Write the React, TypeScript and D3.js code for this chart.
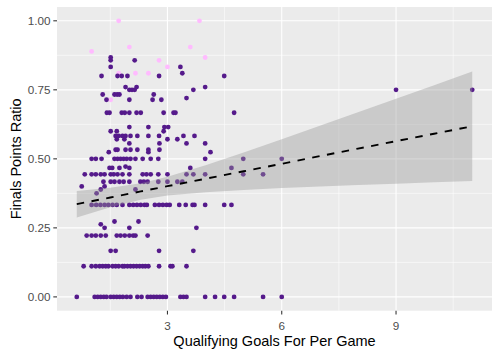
import { useEffect, useRef } from 'react'
import * as d3 from 'd3'

// finals points ratio levels, and the qualifying goals per game of every team on that level
const ratioLevels = [
  0, 0.111, 0.167, 0.222, 0.25, 0.263, 0.273, 0.333, 0.375, 0.389, 0.4, 0.417, 0.444,
  0.467, 0.472, 0.5, 0.524, 0.533, 0.556, 0.571, 0.583, 0.6, 0.615, 0.667, 0.714, 0.72,
  0.733, 0.75, 0.76, 0.8, 0.81, 0.833, 0.857, 0.867,
]
const goalsByLevel: number[][] = [
  [0.62, 1.09, 1.17, 1.25, 1.33, 1.4, 1.51, 1.59, 1.67, 1.75, 1.83, 1.93, 2.03, 2.21, 2.32, 2.48, 2.56, 2.64, 2.72, 2.8, 2.88, 2.96, 3.34, 3.42, 3.5, 3.99, 4.25, 4.49, 4.75, 5.51, 6.0],
  [0.8, 1.01, 1.12, 1.22, 1.3, 1.38, 1.45, 1.56, 1.64, 1.72, 1.82, 1.87, 1.95, 2.03, 2.11, 2.19, 2.27, 2.35, 2.42, 2.5, 2.78, 3.08, 3.13, 3.5],
  [1.51, 1.64, 2.78, 3.68],
  [0.88, 1.01, 1.12, 1.25, 1.38, 1.67, 1.77, 1.88, 2.0, 2.1, 2.16, 2.48],
  [1.35, 2.0, 3.76],
  [1.25],
  [1.61, 2.24],
  [1.01, 1.13, 1.24, 1.35, 1.45, 1.56, 1.67, 1.82, 2.0, 2.1, 2.2, 2.3, 2.4, 2.46, 2.67, 2.78, 2.88, 2.98, 3.06, 3.31, 3.48, 3.66, 3.71, 3.99, 4.49, 4.68],
  [1.14],
  [1.25, 2.16],
  [0.75, 1.35],
  [1.32, 1.51, 1.61, 1.74, 1.85, 2.0, 2.29, 2.38, 2.48, 2.76, 3.0, 3.26, 3.39],
  [0.83, 1.01, 1.12, 1.25, 1.35, 1.51, 1.59, 1.69, 1.82, 2.0, 2.35, 2.45, 2.56, 2.76, 3.0, 3.5, 3.68, 3.99, 4.99, 5.51],
  [1.48, 1.55, 1.74, 2.0, 3.6, 4.68],
  [1.9],
  [1.01, 1.12, 1.27, 1.61, 1.69, 1.77, 1.85, 1.93, 2.03, 2.16, 2.35, 2.56, 2.76, 3.99, 4.99, 6.0],
  [1.46, 2.5, 4.13],
  [1.64, 1.69, 1.9, 2.03, 2.21, 2.5, 2.79],
  [2.0, 2.79, 3.5, 3.99],
  [1.67, 1.87, 3.0, 3.26],
  [1.64, 1.72, 1.82, 1.9, 2.03, 2.21, 2.5, 2.78, 3.42, 3.71],
  [1.51, 1.67, 2.9],
  [2.0, 2.5, 2.92, 3.02],
  [1.41, 1.48, 1.8, 1.88, 2.0, 2.19, 2.3, 2.9, 3.16, 3.21, 4.75],
  [1.4, 2.0, 2.61, 2.84],
  [3.5],
  [1.3, 1.61, 1.68, 1.74, 2.64],
  [2.0, 2.07, 2.14, 3.68, 9.0, 11.0],
  [1.9, 2.19, 3.99],
  [1.27, 1.69, 1.8, 1.95, 2.78, 4.49],
  [3.39],
  [1.51, 3.34],
  [1.51, 2.14],
  [1.51],
]

// the lighter (pink) teams
const pinkGoals = [1.72, 3.84, 1.01, 2.0, 3.6, 3.99, 2.78, 3.0, 1.72, 2.16, 2.5, 1.51]
const pinkRatio = [1.0, 1.0, 0.889, 0.905, 0.905, 0.867, 0.857, 0.833, 0.81, 0.81, 0.81, 0.714]

// linear fit and its 95% band
const fitGoals = [0.62, 1.5, 2.3, 3, 4, 5, 6, 7, 8, 9, 10, 11]
const fitRatio = [0.336, 0.36, 0.382, 0.401, 0.428, 0.455, 0.482, 0.51, 0.537, 0.564, 0.591, 0.618]
const fitLower = [0.288, 0.325, 0.352, 0.367, 0.379, 0.387, 0.394, 0.4, 0.405, 0.41, 0.415, 0.42]
const fitUpper = [0.384, 0.395, 0.412, 0.435, 0.477, 0.523, 0.571, 0.62, 0.669, 0.718, 0.767, 0.816]

const xTicks = [3, 6, 9]
const xMinor = [1.5, 4.5, 7.5, 10.5]
const yTicks = [0, 0.25, 0.5, 0.75, 1]
const yMinor = [0.125, 0.375, 0.625, 0.875]

export default function App() {
  const ref = useRef<SVGSVGElement>(null)

  useEffect(() => {
    if (!ref.current) return
    const svg = d3.select(ref.current)
    svg.selectAll('*').remove()

    const left = 57, right = 492, top = 7, bottom = 310.7
    const x = d3.scaleLinear().domain([0.101, 11.519]).range([left, right])
    const y = d3.scaleLinear().domain([-0.05, 1.05]).range([bottom, top])

    const pts: { g: number, r: number }[] = []
    ratioLevels.forEach((r, i) => goalsByLevel[i].forEach(g => pts.push({ g, r })))
    const pink = pinkGoals.map((g, i) => ({ g, r: pinkRatio[i] }))

    svg.append('rect')
      .attr('x', left).attr('y', top)
      .attr('width', right - left).attr('height', bottom - top)
      .attr('fill', '#EBEBEB')

    const grid = svg.append('g')
    grid.selectAll('line.xm').data(xMinor).join('line')
      .attr('x1', d => x(d)).attr('x2', d => x(d)).attr('y1', top).attr('y2', bottom)
      .attr('stroke', '#fff').attr('stroke-width', 0.55)
    grid.selectAll('line.ym').data(yMinor).join('line')
      .attr('y1', d => y(d)).attr('y2', d => y(d)).attr('x1', left).attr('x2', right)
      .attr('stroke', '#fff').attr('stroke-width', 0.55)
    grid.selectAll('line.xM').data(xTicks).join('line')
      .attr('x1', d => x(d)).attr('x2', d => x(d)).attr('y1', top).attr('y2', bottom)
      .attr('stroke', '#fff').attr('stroke-width', 1.1)
    grid.selectAll('line.yM').data(yTicks).join('line')
      .attr('y1', d => y(d)).attr('y2', d => y(d)).attr('x1', left).attr('x2', right)
      .attr('stroke', '#fff').attr('stroke-width', 1.1)

    // points
    svg.append('g').selectAll('circle').data(pink).join('circle')
      .attr('cx', d => x(d.g)).attr('cy', d => y(d.r)).attr('r', 2.4)
      .attr('fill', '#FFBBFF')
    svg.append('g').selectAll('circle').data(pts).join('circle')
      .attr('cx', d => x(d.g)).attr('cy', d => y(d.r)).attr('r', 2.4)
      .attr('fill', '#551A8B')

    // confidence band and fitted line
    const idx = fitGoals.map((_, i) => i)
    const area = d3.area<number>()
      .x(i => x(fitGoals[i])).y0(i => y(fitLower[i])).y1(i => y(fitUpper[i]))
    svg.append('path').attr('d', area(idx)).attr('fill', '#999999').attr('fill-opacity', 0.4)
    const line = d3.line<number>().x(i => x(fitGoals[i])).y(i => y(fitRatio[i]))
    svg.append('path').attr('d', line(idx))
      .attr('fill', 'none').attr('stroke', '#000').attr('stroke-width', 1.9)
      .attr('stroke-dasharray', '7.5,7.5')

    // axes
    const axes = svg.append('g').attr('font-family', '"Liberation Sans", Arial, sans-serif')
    axes.selectAll('line.xt').data(xTicks).join('line')
      .attr('x1', d => x(d)).attr('x2', d => x(d)).attr('y1', bottom).attr('y2', bottom + 3.7)
      .attr('stroke', '#333').attr('stroke-width', 1.07)
    axes.selectAll('text.xt').data(xTicks).join('text')
      .attr('x', d => x(d)).attr('y', 329.5).attr('text-anchor', 'middle')
      .attr('font-size', '11.7px').attr('fill', '#4D4D4D').text(d => d)
    axes.selectAll('line.yt').data(yTicks).join('line')
      .attr('x1', left - 3.7).attr('x2', left).attr('y1', d => y(d)).attr('y2', d => y(d))
      .attr('stroke', '#333').attr('stroke-width', 1.07)
    axes.selectAll('text.yt').data(yTicks).join('text')
      .attr('x', 50.4).attr('y', d => y(d)).attr('dy', '0.36em').attr('text-anchor', 'end')
      .attr('font-size', '11.7px').attr('fill', '#4D4D4D').text(d => d3.format('.2f')(d))

    axes.append('text')
      .attr('x', (left + right) / 2).attr('y', 346).attr('text-anchor', 'middle')
      .attr('font-size', '14.5px').attr('fill', '#000').text('Qualifying Goals For Per Game')
    axes.append('text')
      .attr('transform', `translate(21,${(top + bottom) / 2}) rotate(-90)`)
      .attr('text-anchor', 'middle')
      .attr('font-size', '14.5px').attr('fill', '#000').text('Finals Points Ratio')
  }, [])

  return (
    <div style={{ position: 'fixed', left: 0, top: 0 }}>
      <svg ref={ref} width={500} height={358} style={{ display: 'block', background: '#fff' }} />
    </div>
  )
}
